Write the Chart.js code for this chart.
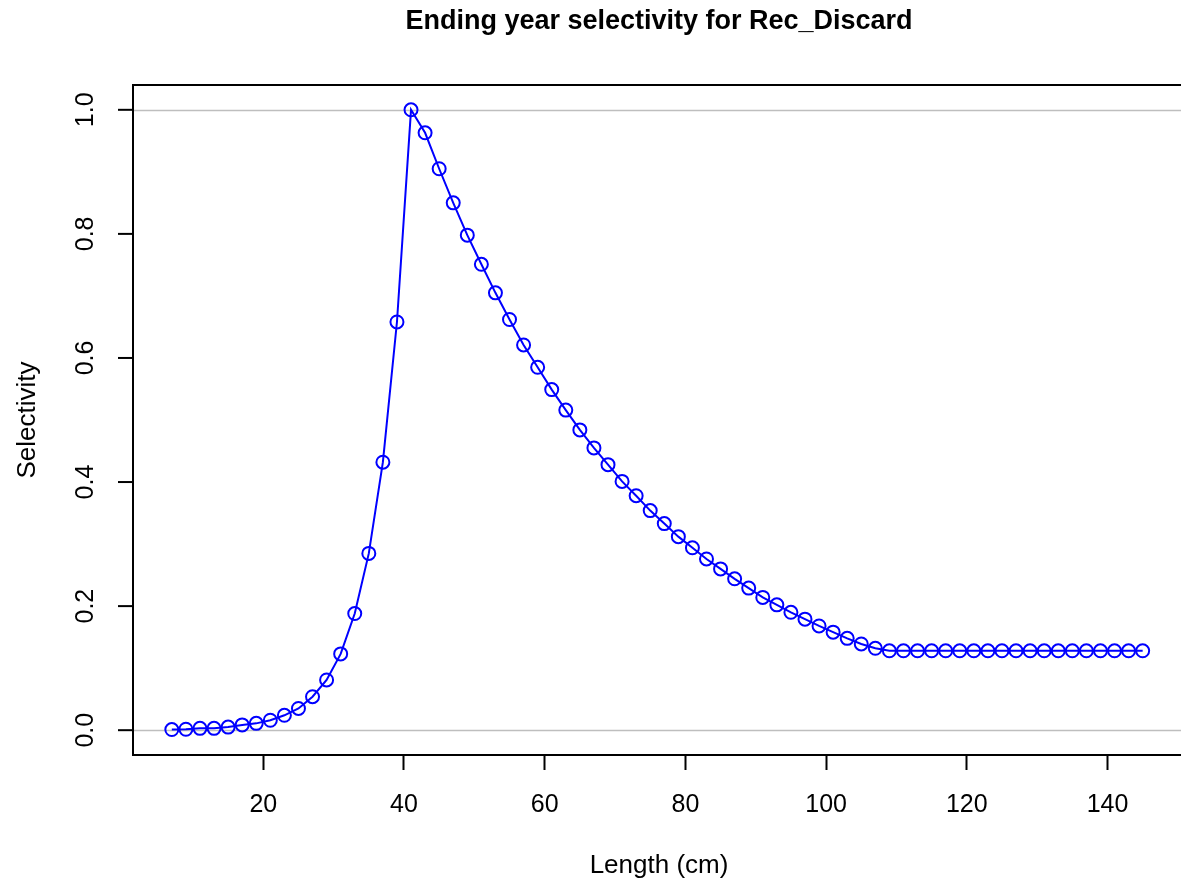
<!DOCTYPE html>
<html>
<head>
<meta charset="utf-8">
<script src="https://cdn.jsdelivr.net/npm/chart.js@4.4.1/dist/chart.umd.min.js"></script>
<style>
  html, body { margin: 0; padding: 0; background: #fff; overflow: hidden; }
  #wrap { width: 1181px; height: 886px; overflow: hidden; }
  #inner { width: 1190px; height: 886px; }
</style>
</head>
<body>
<div id="wrap"><div id="inner"><canvas id="sel" width="1190" height="886"></canvas></div></div>
<script>
// lengths (cm) and ending-year selectivity
var lengths = [7, 9, 11, 13, 15, 17, 19, 21, 23, 25, 27, 29, 31, 33, 35, 37, 39, 41,
  43, 45, 47, 49, 51, 53, 55, 57, 59, 61, 63, 65, 67, 69, 71, 73, 75, 77, 79, 81,
  83, 85, 87, 89, 91, 93, 95, 97, 99, 101, 103, 105, 107, 109, 111, 113, 115, 117,
  119, 121, 123, 125, 127, 129, 131, 133, 135, 137, 139, 141, 143, 145];
var selectivity = [0.001, 0.0015, 0.003, 0.003, 0.005, 0.0085, 0.011, 0.016, 0.024,
  0.035, 0.054, 0.081, 0.123, 0.188, 0.285, 0.432, 0.658, 1.0,
  0.963, 0.905, 0.85, 0.798, 0.751, 0.705, 0.662, 0.621, 0.585, 0.549, 0.516, 0.484,
  0.455, 0.428, 0.401, 0.378, 0.354, 0.333, 0.312, 0.294, 0.276, 0.26, 0.244, 0.229,
  0.214, 0.202, 0.19, 0.179, 0.168, 0.158, 0.148, 0.139, 0.132, 0.128, 0.128, 0.128,
  0.128, 0.128, 0.128, 0.128, 0.128, 0.128, 0.128, 0.128, 0.128, 0.128, 0.128, 0.128,
  0.128, 0.128, 0.128, 0.128];
var xTicks = [20, 40, 60, 80, 100, 120, 140];
var yTicks = [0, 0.2, 0.4, 0.6, 0.8, 1.0];
var yTickLabels = ['0.0', '0.2', '0.4', '0.6', '0.8', '1.0'];
var refLines = [0, 1];

var titleText = 'Ending year selectivity for Rec_Discard';
var xTitle = 'Length (cm)';
var yTitle = 'Selectivity';
var FONT = '"Liberation Sans", Arial, sans-serif';

var points = lengths.map(function(x, i) { return {x: x, y: selectivity[i]}; });

// R-style decorations: box, grey reference lines, rotated y labels, titles
var rPlot = {
    id: 'rPlot',
    beforeDatasetsDraw: function(chart) {
        var ctx = chart.ctx, a = chart.chartArea, y = chart.scales.y;
        ctx.save();
        ctx.strokeStyle = '#bebebe';
        ctx.lineWidth = 1.5;
        refLines.forEach(function(v) {
            var py = Math.round(y.getPixelForValue(v)) + 0.5;
            ctx.beginPath();
            ctx.moveTo(a.left, py);
            ctx.lineTo(a.right, py);
            ctx.stroke();
        });
        ctx.restore();
    },
    afterDraw: function(chart) {
        var ctx = chart.ctx, a = chart.chartArea, y = chart.scales.y;
        ctx.save();
        ctx.strokeStyle = '#000';
        ctx.lineWidth = 2;
        // box: the right side is cut off by the window in the original
        ctx.beginPath();
        ctx.moveTo(chart.width, a.top);
        ctx.lineTo(a.left, a.top);
        ctx.lineTo(a.left, a.bottom);
        ctx.lineTo(chart.width, a.bottom);
        ctx.stroke();

        // y tick marks and rotated labels
        ctx.fillStyle = '#000';
        ctx.font = '25px ' + FONT;
        ctx.textAlign = 'center';
        ctx.textBaseline = 'middle';
        yTicks.forEach(function(v, i) {
            var py = y.getPixelForValue(v);
            ctx.beginPath();
            ctx.moveTo(a.left - 15, py);
            ctx.lineTo(a.left, py);
            ctx.stroke();
            ctx.save();
            ctx.translate(86, py);
            ctx.rotate(-Math.PI / 2);
            ctx.fillText(yTickLabels[i], 0, 0);
            ctx.restore();
        });

        ctx.font = 'bold 27px ' + FONT;
        ctx.fillText(titleText, 659, 22);

        ctx.font = '26px ' + FONT;
        ctx.fillText(xTitle, 659, 866);

        ctx.save();
        ctx.translate(28, (a.top + a.bottom) / 2);
        ctx.rotate(-Math.PI / 2);
        ctx.fillText(yTitle, 0, 0);
        ctx.restore();
        ctx.restore();
    }
};

var ctx = document.getElementById('sel').getContext('2d');
new Chart(ctx, {
    type: 'line',
    data: {
        datasets: [{
            label: 'Selectivity',
            data: points,
            borderColor: '#0000ff',
            borderWidth: 2,
            pointStyle: 'circle',
            pointRadius: 6.5,
            pointBorderWidth: 2,
            pointBorderColor: '#0000ff',
            pointBackgroundColor: 'rgba(0,0,0,0)',
            tension: 0
        }]
    },
    options: {
        responsive: false,
        animation: false,
        devicePixelRatio: 1,
        layout: { padding: { left: 0, right: 2.5, top: 85, bottom: 0 } },
        scales: {
            x: {
                type: 'linear',
                min: 1.48,
                max: 150.52,
                afterFit: function(s) { s.height = 131; s.paddingRight = 0; },
                afterBuildTicks: function(s) {
                    s.ticks = xTicks.map(function(v) { return {value: v}; });
                },
                border: { display: false },
                grid: {
                    drawOnChartArea: false,
                    drawTicks: true,
                    tickLength: 15,
                    tickWidth: 2,
                    tickColor: '#000'
                },
                ticks: {
                    color: '#000',
                    padding: 20,
                    maxRotation: 0,
                    font: { size: 25, family: FONT }
                }
            },
            y: {
                type: 'linear',
                min: -0.04,
                max: 1.04,
                afterFit: function(s) { s.width = 133; },
                border: { display: false },
                grid: { display: false },
                ticks: { display: false }
            }
        },
        plugins: {
            legend: { display: false },
            tooltip: { enabled: false }
        }
    },
    plugins: [rPlot]
});
</script>
</body>
</html>
